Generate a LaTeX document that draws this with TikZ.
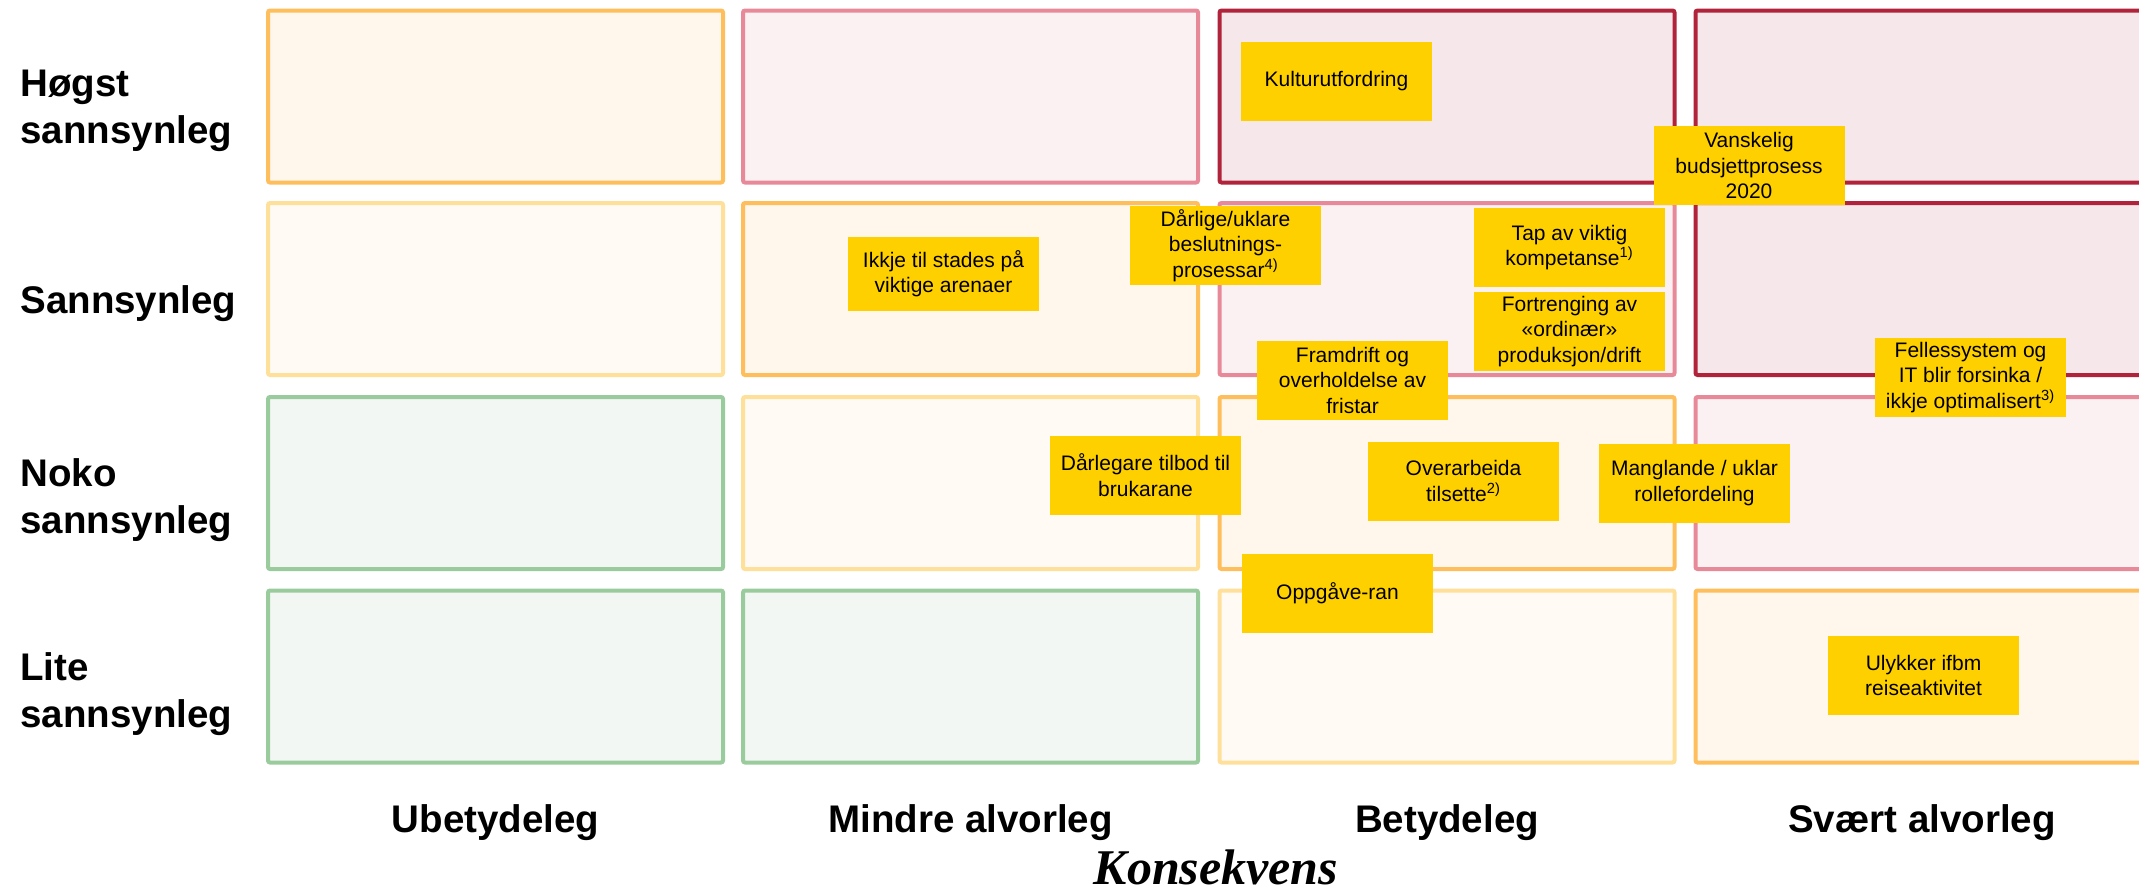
\documentclass[tikz,border=0pt]{standalone}
\usepackage{fontspec}
\setmainfont{Liberation Sans}
\newfontfamily\serifk{Liberation Serif}
\definecolor{orB}{HTML}{FFBE5C}\definecolor{orF}{HTML}{FFF6EC}
\definecolor{pkB}{HTML}{E8899A}\definecolor{pkF}{HTML}{FBF1F3}
\definecolor{drB}{HTML}{B0233B}\definecolor{drF}{HTML}{F5E7EA}
\definecolor{lyB}{HTML}{FFE09A}\definecolor{lyF}{HTML}{FFFBF4}
\definecolor{grB}{HTML}{9ACB9C}\definecolor{grF}{HTML}{F3F7F3}
\definecolor{ylw}{HTML}{FFD000}
\tikzset{
  cell/.style={rectangle, rounded corners=1pt, line width=2pt, minimum width=227.5pt, minimum height=86pt, inner sep=0pt},
  orc/.style={cell, draw=orB, fill=orF},
  pkc/.style={cell, draw=pkB, fill=pkF},
  drc/.style={cell, draw=drB, fill=drF},
  lyc/.style={cell, draw=lyB, fill=lyF},
  grc/.style={cell, draw=grB, fill=grF},
  risk/.style={rectangle, fill=ylw, minimum width=95.5pt, minimum height=39.5pt, inner sep=0pt, align=center, font=\fontsize{10.5}{12.75}\selectfont},
  rowlab/.style={anchor=base west, align=left, inner sep=0pt, font=\bfseries\fontsize{19.25}{23.5}\selectfont},
  collab/.style={anchor=base, inner sep=0pt, font=\bfseries\fontsize{19.25}{23.5}\selectfont},
  axlab/.style={anchor=base, inner sep=0pt, font=\serifk\bfseries\itshape\fontsize{25}{28}\selectfont}
}
\begin{document}
\begin{tikzpicture}[x=0.5pt, y=-0.5pt]
\useasboundingbox (0,0) rectangle (2139,895);
\clip (0,0) rectangle (2139,895);
% grid cells
\node[orc] (c11) at (495.5,96.5) {};
\node[pkc] (c12) at (970.5,96.5) {};
\node[drc] (c13) at (1447,96.5) {};
\node[drc] (c14) at (1923,96.5) {};
\node[lyc] (c21) at (495.5,289) {};
\node[orc] (c22) at (970.5,289) {};
\node[pkc] (c23) at (1447,289) {};
\node[drc] (c24) at (1923,289) {};
\node[grc] (c31) at (495.5,483) {};
\node[lyc] (c32) at (970.5,483) {};
\node[orc] (c33) at (1447,483) {};
\node[pkc] (c34) at (1923,483) {};
\node[grc] (c41) at (495.5,676.5) {};
\node[grc] (c42) at (970.5,676.5) {};
\node[lyc] (c43) at (1447,676.5) {};
\node[orc] (c44) at (1923,676.5) {};
% row labels (base = last line's baseline)
\node[rowlab] (r1) at (20,143) {Høgst\\sannsynleg};
\node[rowlab] (r2) at (20,313) {Sannsynleg};
\node[rowlab] (r3) at (20,533) {Noko\\sannsynleg};
\node[rowlab] (r4) at (20,727) {Lite\\sannsynleg};
% column labels
\node[collab] (k1) at (495.5,832) {Ubetydeleg};
\node[collab] (k2) at (970.5,832) {Mindre alvorleg};
\node[collab] (k3) at (1447,832) {Betydeleg};
\node[collab] (k4) at (1922,832) {Svært alvorleg};
\node[axlab] (ax) at (1216,884) {Konsekvens};
% risks
\node[risk] (b1) at (1336.5,81.5) {Kulturutfordring};
\node[risk] (b2) at (1749,165.5) {Vanskelig\\budsjettprosess\\2020};
\node[risk, minimum height=37pt] (b3) at (943.5,273.5) {Ikkje til stades på\\viktige arenaer};
\node[risk] (b4) at (1225.5,245.5) {Dårlige/uklare\\beslutnings-\\prosessar\textsuperscript{4)}};
\node[risk] (b5) at (1569.5,247.5) {Tap av viktig\\kompetanse\textsuperscript{1)}};
\node[risk] (b6) at (1569.5,331.5) {Fortrenging av\\«ordinær»\\produksjon/drift};
\node[risk] (b7) at (1352.5,380) {Framdrift og\\overholdelse av\\fristar};
\node[risk] (b8) at (1970.5,377.5) {Fellessystem og\\IT blir forsinka /\\ikkje optimalisert\textsuperscript{3)}};
\node[risk] (b9) at (1145.5,475) {Dårlegare tilbod til\\brukarane};
\node[risk] (b10) at (1463.5,481) {Overarbeida\\tilsette\textsuperscript{2)}};
\node[risk] (b11) at (1694.5,483) {Manglande / uklar\\rollefordeling};
\node[risk] (b12) at (1337.5,593) {Oppgåve-ran};
\node[risk] (b13) at (1923.5,675.5) {Ulykker ifbm\\reiseaktivitet};
\end{tikzpicture}
\end{document}
